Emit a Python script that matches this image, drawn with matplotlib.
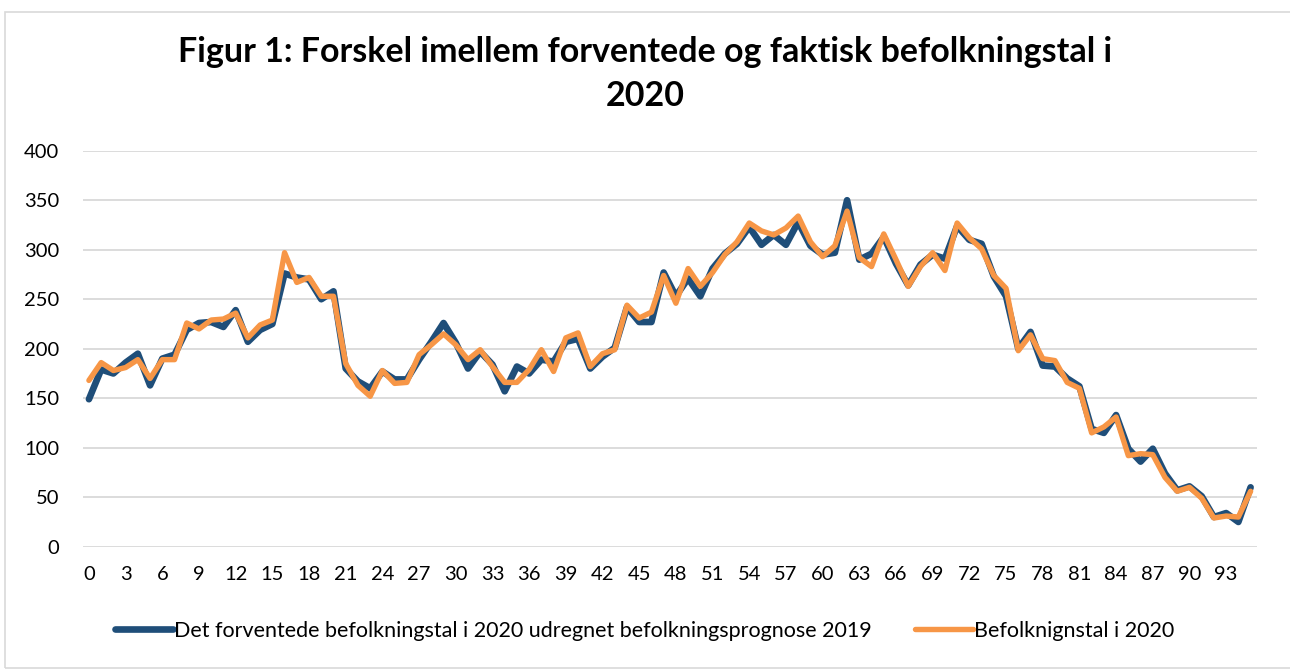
import numpy as np
import matplotlib
matplotlib.use("Agg")
import matplotlib.pyplot as plt
from matplotlib.patches import Rectangle

plt.rcParams['font.family'] = ['Lato', 'DejaVu Sans']

# alder 0..95
alder = list(range(96))

forventet = [149, 179, 175, 186, 195, 163, 190, 194, 219, 226, 227, 222, 239, 207, 219, 225,
             276, 272, 270, 250, 258, 180, 167, 160, 177, 169, 169, 189, 207, 226, 206, 180,
             197, 184, 157, 182, 175, 189, 187, 207, 210, 180, 192, 201, 242, 227, 227, 277,
             253, 271, 253, 281, 296, 306, 323, 305, 315, 305, 328, 304, 295, 297, 350, 290,
             296, 313, 286, 264, 285, 295, 291, 324, 310, 306, 273, 253, 200, 217, 183, 182,
             170, 162, 119, 115, 133, 99, 86, 99, 74, 57, 61, 51, 30, 34, 25, 60]

faktisk = [168, 186, 178, 181, 189, 170, 189, 189, 226, 220, 229, 230, 236, 211, 224, 229,
           297, 267, 272, 253, 253, 185, 163, 152, 178, 165, 166, 194, 204, 215, 204, 189,
           199, 182, 166, 166, 179, 199, 177, 211, 216, 182, 195, 199, 244, 231, 237, 274,
           246, 281, 263, 277, 295, 308, 327, 319, 315, 322, 334, 308, 293, 304, 339, 292,
           283, 316, 290, 263, 283, 297, 279, 327, 312, 301, 274, 261, 198, 214, 190, 188,
           166, 160, 115, 121, 131, 92, 94, 93, 70, 56, 60, 49, 29, 31, 30, 56]

navn_forventet = 'Det forventede befolkningstal i 2020 udregnet befolkningsprognose 2019'
navn_faktisk = 'Befolknignstal i 2020'

fig = plt.figure(figsize=(12.9, 6.7), dpi=100)
ax = fig.add_axes([0.0642, 0.184, 0.91, 0.591])

ax.plot(alder, forventet, color='#1f4e79', lw=4.8, solid_joinstyle='round',
        solid_capstyle='round', label=navn_forventet, zorder=3)
ax.plot(alder, faktisk, color='#f79646', lw=3.9, solid_joinstyle='round',
        solid_capstyle='round', label=navn_faktisk, zorder=4)

ax.set_xlim(-0.5, 95.5)
ax.set_ylim(0, 400)
ax.set_yticks(range(0, 401, 50))
ax.set_xticks(alder[::3])
ax.tick_params(length=0, labelsize=14.5, colors='#000000', pad=14)
ax.tick_params(axis='y', pad=17)
ax.grid(axis='y', color='#d9d9d9', lw=1.3)
ax.set_axisbelow(True)
for s in ax.spines.values():
    s.set_visible(False)

fig.text(0.5, 1 - 52 / 670, 'Figur 1: Forskel imellem forventede og faktisk befolkningstal i',
         ha='center', va='center', fontsize=24.5, fontweight='bold')
fig.text(0.5, 1 - 96 / 670, '2020', ha='center', va='center', fontsize=24.5, fontweight='bold')

fig.legend(loc='center', bbox_to_anchor=(0.5, 1 - 631 / 670), ncol=2, frameon=False,
           fontsize=15.5, handlelength=2.7, handletextpad=0.05, columnspacing=2.0)

fig.patches.append(Rectangle((5 / 1290, 2 / 670), 1.2, 1 - 14 / 670, transform=fig.transFigure,
                             fill=False, edgecolor='#d9d9d9', lw=1.2))

fig.savefig('out.png', dpi=100)
